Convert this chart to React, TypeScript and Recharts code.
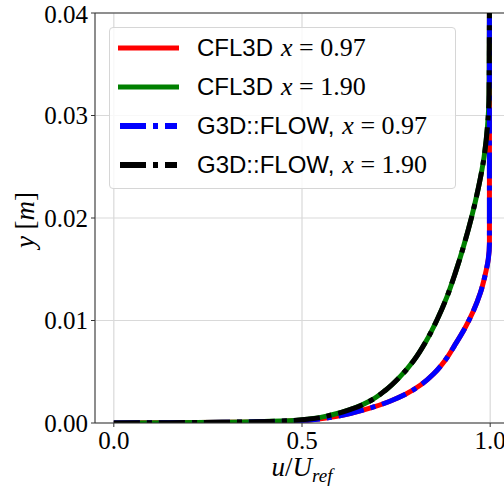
import React from 'react';
import {
  CartesianGrid,
  Legend,
  Line,
  LineChart,
  ReferenceLine,
  XAxis,
  YAxis,
} from 'recharts';

// velocity profiles, u/Uref against wall distance y [m]
const U_AT_097 = [0, 0.15, 0.3, 0.45, 0.52, 0.585, 0.635, 0.685, 0.732, 0.775, 0.815, 0.85, 0.88, 0.906, 0.932, 0.955, 0.974, 0.987, 0.995, 0.998, 0.998, 0.998];
const Y_AT_097 = [0, 0.00003, 0.00007, 0.00016, 0.0003, 0.0006, 0.001, 0.0015, 0.0021, 0.0028, 0.0037, 0.0048, 0.0061, 0.0076, 0.0092, 0.0109, 0.0127, 0.0145, 0.016, 0.0175, 0.025, 0.04];

const U_AT_190 = [0, 0.15, 0.3, 0.45, 0.52, 0.58, 0.635, 0.683, 0.722, 0.76, 0.797, 0.83, 0.858, 0.884, 0.907, 0.929, 0.95, 0.969, 0.984, 0.993, 0.997, 0.998];
const Y_AT_190 = [0, 0.00003, 0.00008, 0.0002, 0.0004, 0.0008, 0.0014, 0.0022, 0.0032, 0.0045, 0.0061, 0.008, 0.01, 0.0122, 0.0146, 0.0172, 0.02, 0.023, 0.026, 0.029, 0.032, 0.04];

const X_TICKS = [0, 0.5, 1.0];
const Y_TICKS = [0, 0.01, 0.02, 0.03, 0.04];

const SERIES = [
  { name: 'CFL3D', station: '0.97', color: '#ff0000', dash: undefined, u: U_AT_097, y: Y_AT_097 },
  { name: 'CFL3D', station: '1.90', color: '#008000', dash: undefined, u: U_AT_190, y: Y_AT_190 },
  { name: 'G3D::FLOW,', station: '0.97', color: '#0000ff', dash: '26 7 5 7', u: U_AT_097, y: Y_AT_097 },
  { name: 'G3D::FLOW,', station: '1.90', color: '#000000', dash: '26 7 5 7', u: U_AT_190, y: Y_AT_190 },
];

const SERIF = '"Liberation Serif", "DejaVu Serif", serif';
const SANS = '"Liberation Sans", "DejaVu Sans", sans-serif';

function profile(us: number[], ys: number[]) {
  return us.map((u, i) => ({ u, y: ys[i] }));
}

function renderLegend() {
  return (
    <div
      style={{
        boxSizing: 'border-box',
        width: '100%',
        height: '100%',
        background: 'rgba(255,255,255,0.8)',
        border: '1px solid #d6d6d6',
        borderRadius: 4,
      }}
    >
      {SERIES.map((s, i) => (
        <div key={i} style={{ display: 'flex', alignItems: 'center', height: 39, whiteSpace: 'nowrap' }}>
          <svg width={80} height={10} style={{ marginLeft: 7, flex: 'none' }}>
            <line
              x1={s.dash ? 3 : 1}
              x2={s.dash ? 60 : 62}
              y1={5}
              y2={5}
              stroke={s.color}
              strokeWidth={s.dash ? 6 : 5}
              strokeDasharray={s.dash}
            />
          </svg>
          <span style={{ fontFamily: SANS, fontSize: 24 }}>{s.name}</span>
          <span style={{ fontFamily: SERIF, fontSize: 26, marginLeft: 8 }}>
            <i>x</i> = {s.station}
          </span>
        </div>
      ))}
    </div>
  );
}

function XLabel(props: any) {
  const vb = props.viewBox;
  const cx = vb.x + vb.width / 2;
  return (
    <text x={cx} y={476} textAnchor="middle" fontFamily={SERIF} fontSize={27} fill="#000">
      <tspan fontStyle="italic">u</tspan>
      <tspan>/</tspan>
      <tspan fontStyle="italic">U</tspan>
      <tspan fontStyle="italic" fontSize={19} dy={6}>ref</tspan>
    </text>
  );
}

function YLabel() {
  return (
    <text
      x={25}
      y={220}
      transform="rotate(-90 25 220)"
      textAnchor="middle"
      dominantBaseline="central"
      fontFamily={SERIF}
      fontSize={27}
      fill="#000"
    >
      <tspan fontStyle="italic">y</tspan>
      <tspan> [</tspan>
      <tspan fontStyle="italic">m</tspan>
      <tspan>]</tspan>
    </text>
  );
}

export default function App() {
  const tickStyle = { fontFamily: SERIF, fontSize: 25, fill: '#000' };
  return (
    <div style={{ position: 'absolute', left: 0, top: 0, width: 504, height: 487, overflow: 'hidden', background: '#fff' }}>
      <LineChart width={520} height={487} margin={{ top: 13, right: 11, bottom: 0, left: 0 }}>
        <CartesianGrid stroke="#d9d9d9" strokeWidth={1.2} />
        <XAxis
          dataKey="u"
          type="number"
          domain={[-0.05, 1.05]}
          ticks={X_TICKS}
          allowDataOverflow
          height={64}
          tick={tickStyle}
          tickFormatter={(v: number) => v.toFixed(1)}
          tickSize={4}
          tickMargin={4}
          stroke="#333"
          label={<XLabel />}
        />
        <YAxis
          dataKey="y"
          type="number"
          domain={[0, 0.04]}
          ticks={Y_TICKS}
          allowDataOverflow
          width={95}
          tick={tickStyle}
          tickFormatter={(v: number) => v.toFixed(2)}
          tickSize={4}
          tickMargin={3}
          stroke="#333"
          label={<YLabel />}
        />
        <ReferenceLine y={0.04} stroke="#333" strokeWidth={1} />
        {SERIES.map((s, i) => (
          <Line
            key={i}
            data={profile(s.u, s.y)}
            dataKey="y"
            type="monotoneY"
            stroke={s.color}
            strokeWidth={5}
            strokeDasharray={s.dash}
            dot={false}
            activeDot={false}
            isAnimationActive={false}
            name={`${s.name} x = ${s.station}`}
          />
        ))}
        <Legend
          layout="vertical"
          align="center"
          verticalAlign="middle"
          content={renderLegend}
          wrapperStyle={{ left: 109, top: 27, width: 347, height: 162 }}
        />
      </LineChart>
    </div>
  );
}
